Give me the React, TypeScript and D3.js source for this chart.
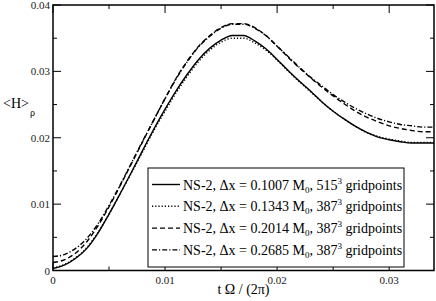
import React, { useEffect, useRef } from "react";
import * as d3 from "d3";

// <H>_rho versus t Omega / (2 pi) for four NS-2 runs

const tValues = [
  0, 0.001, 0.002, 0.003, 0.004, 0.005, 0.006, 0.007, 0.008, 0.009,
  0.01, 0.011, 0.012, 0.013, 0.014, 0.015, 0.016, 0.017, 0.018, 0.019,
  0.02, 0.021, 0.022, 0.023, 0.024, 0.025, 0.026, 0.027, 0.028, 0.029,
  0.03, 0.031, 0.032, 0.033, 0.034,
];

const solid515 = [
  0.0003, 0.0008, 0.0018, 0.0033, 0.0056, 0.0085, 0.0116, 0.0148, 0.0181, 0.0213,
  0.0243, 0.0271, 0.0296, 0.0318, 0.0335, 0.0347, 0.0354, 0.0354, 0.0346, 0.0334,
  0.0318, 0.0301, 0.0285, 0.027, 0.0254, 0.024, 0.0228, 0.0217, 0.0208, 0.0201,
  0.0197, 0.0194, 0.0192, 0.0192, 0.0192,
];

const dotted387 = [
  0.0004, 0.0009, 0.0019, 0.0034, 0.0057, 0.0085, 0.0116, 0.0147, 0.0179, 0.0211,
  0.024, 0.0268, 0.0293, 0.0315, 0.0332, 0.0344, 0.035, 0.035, 0.0343, 0.0332,
  0.0317, 0.03, 0.0284, 0.0269, 0.0254, 0.024, 0.0228, 0.0217, 0.0208, 0.0202,
  0.0198, 0.0195, 0.0193, 0.0193, 0.0193,
];

const dashed387 = [
  0.0012, 0.0016, 0.0026, 0.0043, 0.0067, 0.0096, 0.0128, 0.0161, 0.0194, 0.0227,
  0.0259, 0.029, 0.0316, 0.0338, 0.0354, 0.0366, 0.0372, 0.0372, 0.0366, 0.0354,
  0.0338, 0.0321, 0.0305, 0.029, 0.0276, 0.0263, 0.0251, 0.024, 0.0231, 0.0224,
  0.0218, 0.0214, 0.0211, 0.0209, 0.0209,
];

const dashdot387 = [
  0.0021, 0.0024, 0.0033, 0.0048, 0.007, 0.0098, 0.0129, 0.0162, 0.0195, 0.0227,
  0.0259, 0.0289, 0.0315, 0.0337, 0.0353, 0.0365, 0.0371, 0.0371, 0.0365, 0.0354,
  0.0338, 0.0322, 0.0306, 0.0291, 0.0278, 0.0265, 0.0254, 0.0244, 0.0236, 0.0229,
  0.0224, 0.022, 0.0218, 0.0216, 0.0216,
];

const legendDx = ["0.1007", "0.1343", "0.2014", "0.2685"];
const legendGrid = ["515", "387", "387", "387"];
const dashes = ["none", "1.2,2", "5,3", "5,2,1.2,2"];
const seriesList = [solid515, dotted387, dashed387, dashdot387];

const xMajor = [0, 0.01, 0.02, 0.03];
const xMajorLabels = ["0", "0.01", "0.02", "0.03"];
const xMinor = [0.005, 0.015, 0.025];
const yMajor = [0, 0.01, 0.02, 0.03, 0.04];
const yMajorLabels = ["0", "0.01", "0.02", "0.03", "0.04"];
const yMinor = [0.005, 0.015, 0.025, 0.035];

const W = 436;
const H = 301;
const FONT = "'Liberation Serif', 'Times New Roman', serif";

const App = () => {
  const svgRef = useRef<SVGSVGElement>(null);

  useEffect(() => {
    const svg = d3.select(svgRef.current);
    svg.selectAll("*").remove();

    const left = 53, right = 434, top = 5, bottom = 270.5;

    const x = d3.scaleLinear().domain([0, 0.034]).range([left, right]);
    const y = d3.scaleLinear().domain([0, 0.04]).range([bottom, top]);

    svg.append("rect").attr("width", W).attr("height", H).attr("fill", "#fff");

    // curves
    const line = d3.line<number>()
      .x((_, i) => x(tValues[i]))
      .y(d => y(d))
      .curve(d3.curveMonotoneX);

    seriesList.forEach((s, i) => {
      svg.append("path")
        .datum(s)
        .attr("d", line)
        .attr("fill", "none")
        .attr("stroke", "#000")
        .attr("stroke-width", 1.4)
        .attr("stroke-dasharray", dashes[i]);
    });

    // ticks on all four sides, pointing inward
    const tick = (x1, y1, x2, y2) =>
      svg.append("line")
        .attr("x1", x1).attr("y1", y1).attr("x2", x2).attr("y2", y2)
        .attr("stroke", "#000").attr("stroke-width", 1);

    xMajor.forEach(v => { tick(x(v), bottom, x(v), bottom - 8); tick(x(v), top, x(v), top + 8); });
    xMinor.forEach(v => { tick(x(v), bottom, x(v), bottom - 4); tick(x(v), top, x(v), top + 4); });
    yMajor.forEach(v => { tick(left, y(v), left + 8, y(v)); tick(right, y(v), right - 8, y(v)); });
    yMinor.forEach(v => { tick(left, y(v), left + 4, y(v)); tick(right, y(v), right - 4, y(v)); });

    svg.append("rect")
      .attr("x", left).attr("y", top)
      .attr("width", right - left).attr("height", bottom - top)
      .attr("fill", "none").attr("stroke", "#000").attr("stroke-width", 1.5);

    // tick labels
    svg.append("g")
      .selectAll("text")
      .data(xMajor)
      .join("text")
      .attr("x", d => x(d))
      .attr("y", bottom + 13)
      .attr("text-anchor", "middle")
      .attr("font-family", FONT)
      .attr("font-size", 11)
      .attr("fill", "#222")
      .text((_, i) => xMajorLabels[i]);

    svg.append("g")
      .selectAll("text")
      .data(yMajor)
      .join("text")
      .attr("x", left - 3)
      .attr("y", d => y(d) + 4)
      .attr("text-anchor", "end")
      .attr("font-family", FONT)
      .attr("font-size", 11)
      .attr("fill", "#222")
      .text((_, i) => yMajorLabels[i]);

    // axis titles
    svg.append("text")
      .attr("x", (left + right) / 2)
      .attr("y", 294)
      .attr("text-anchor", "middle")
      .attr("font-family", FONT)
      .attr("font-size", 14)
      .text("t \u03A9 / (2\u03C0)");

    const yt = svg.append("text")
      .attr("x", 3)
      .attr("y", 108)
      .attr("font-family", FONT)
      .attr("font-size", 14);
    yt.append("tspan").text("<H>");
    yt.append("tspan").attr("font-size", 10).attr("dy", 8).attr("dx", 1).text("\u03C1");

    // legend
    const lg = svg.append("g");
    lg.append("rect")
      .attr("x", 148).attr("y", 168)
      .attr("width", 256).attr("height", 99)
      .attr("fill", "#fff").attr("stroke", "#000").attr("stroke-width", 1);

    legendDx.forEach((dx, i) => {
      const cy = 184.5 + i * 21.8;
      lg.append("line")
        .attr("x1", 152).attr("x2", 180)
        .attr("y1", cy).attr("y2", cy)
        .attr("stroke", "#000").attr("stroke-width", 1.4)
        .attr("stroke-dasharray", dashes[i]);
      const t = lg.append("text")
        .attr("x", 183).attr("y", cy + 5)
        .attr("font-family", FONT)
        .attr("font-size", 14);
      t.append("tspan").text(`NS-2, \u0394x = ${dx} M`);
      t.append("tspan").attr("font-size", 9).attr("dy", 3).text("0");
      t.append("tspan").attr("dy", -3).text(`, ${legendGrid[i]}`);
      t.append("tspan").attr("font-size", 9).attr("dy", -6).text("3");
      t.append("tspan").attr("dy", 6).text(" gridpoints");
    });
  }, []);

  return (
    <svg
      ref={svgRef}
      width={W}
      height={H}
      style={{ position: "absolute", left: 0, top: 0 }}
    ></svg>
  );
};

export default App;
